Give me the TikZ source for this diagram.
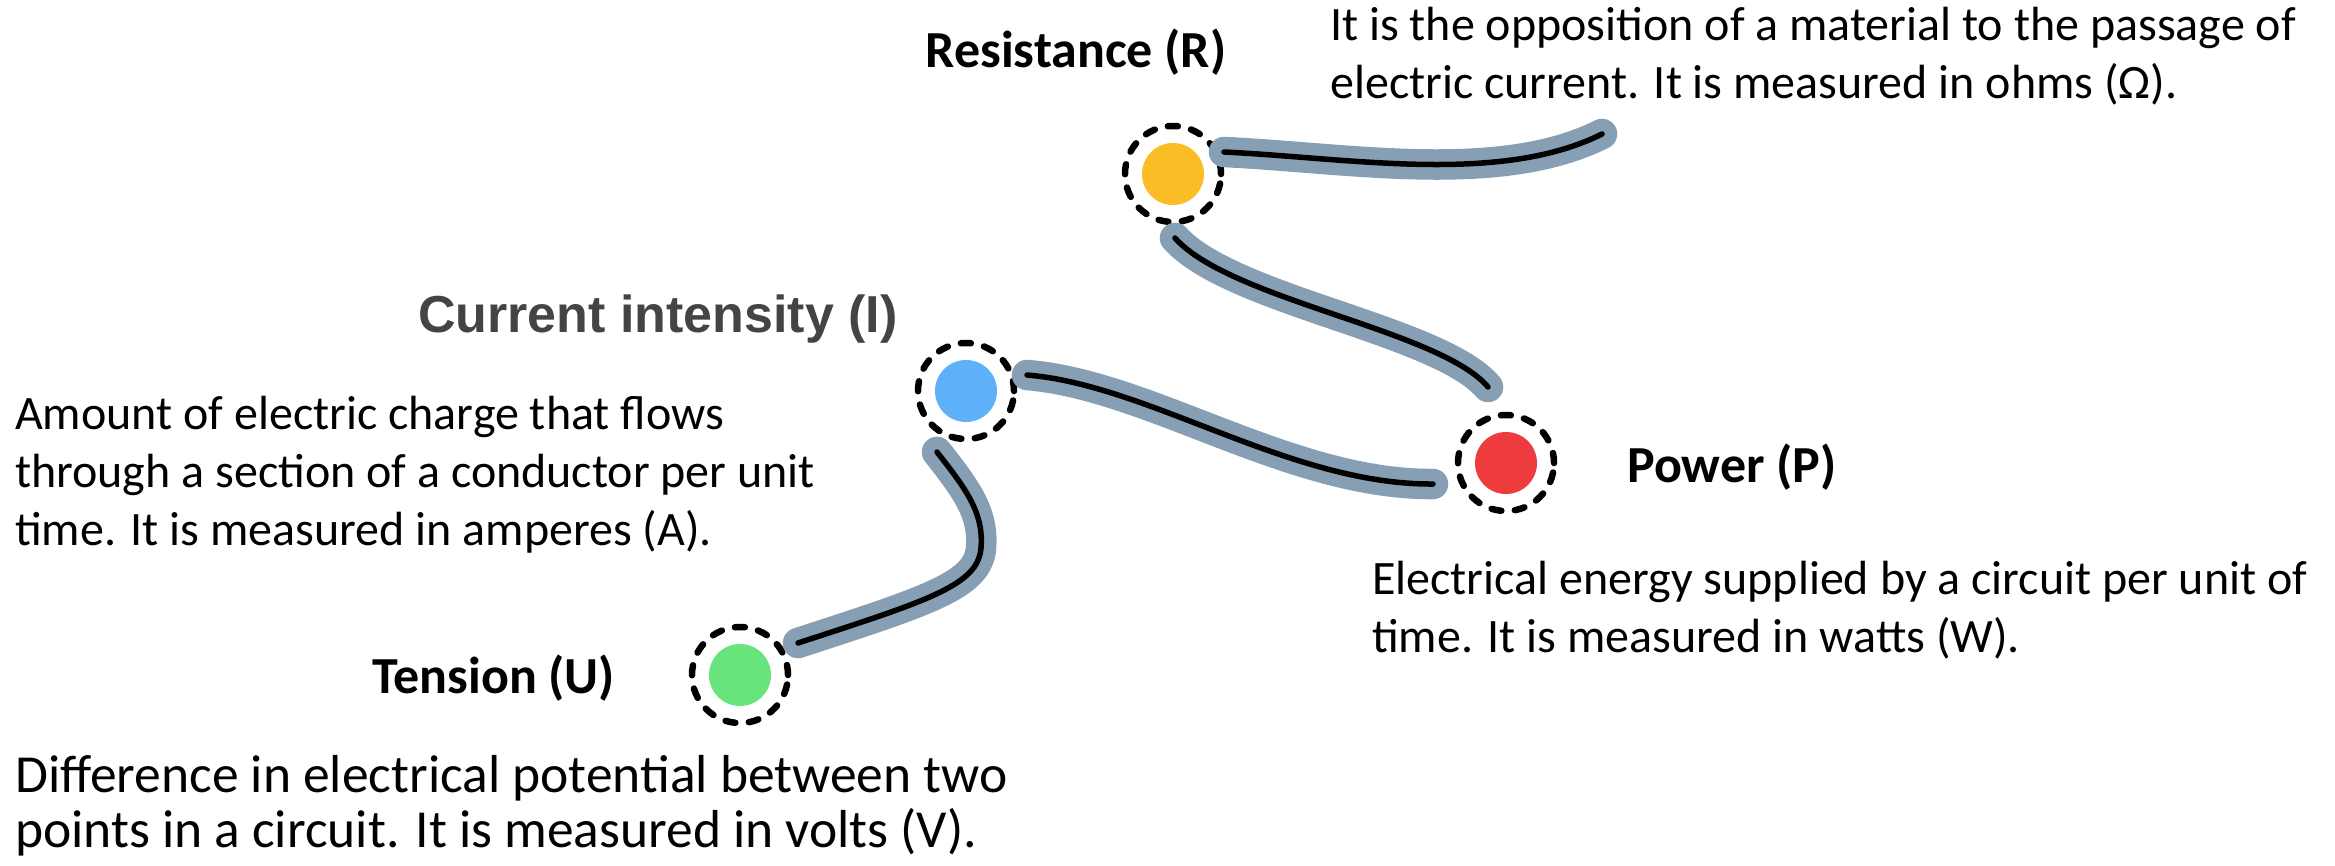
\documentclass[tikz,border=0pt]{standalone}
\usepackage{fontspec}
\setmainfont{Carlito}
\newfontfamily\arialfont{Liberation Sans}
\usetikzlibrary{calc}
\definecolor{wiregrey}{RGB}{134,159,180}
\definecolor{labelgrey}{RGB}{68,68,68}
\definecolor{cyellow}{RGB}{251,189,38}
\definecolor{cblue}{RGB}{94,176,248}
\definecolor{cred}{RGB}{238,59,61}
\definecolor{cgreen}{RGB}{105,228,125}
\tikzset{
  wire/.style={draw=wiregrey, double=black, double distance=5.5pt,
    line width=12.5pt, line cap=round},
  ring/.style={circle, draw=black, line width=6.5pt, line cap=round,
    dash pattern=on 10pt off 13.5pt, minimum size=96pt, inner sep=0pt},
  dot/.style={circle, fill=#1, minimum size=62pt, inner sep=0pt},
  lbl/.style={font=\fontsize{52}{62}\selectfont\bfseries, inner sep=0pt},
  desc/.style={font=\fontsize{48}{58}\selectfont, align=left, inner sep=0pt},
}
\begin{document}
\begin{tikzpicture}[x=1pt,y=-1pt]
\useasboundingbox (0,0) rectangle (2335,865);
\fill[white] (0,0) rectangle (2335,865);

% circles
\node[dot=cyellow] (dotR) at (1173,174) {};
\node[ring] (ringR) at (1173,174) {};
\node[dot=cblue] (dotI) at (966,391) {};
\node[ring] (ringI) at (966,391) {};
\node[dot=cred] (dotP) at (1506,463) {};
\node[ring] (ringP) at (1506,463) {};
\node[dot=cgreen] (dotU) at (740,675) {};
\node[ring] (ringU) at (740,675) {};

% wires
\coordinate (Rtail) at (1602,134);
\draw[wire] ($(ringR.center)+(51,-22)$) .. controls (1350,158) and (1500,185) .. (Rtail);
\draw[wire] ($(ringR.center)+(2,64)$) .. controls (1230,300) and (1440,330) .. ($(ringP.center)+(-18,-76)$);
\draw[wire] ($(ringI.center)+(61,-16)$) .. controls (1150,385) and (1290,485) .. ($(ringP.center)+(-73,21)$);
\draw[wire] ($(ringI.center)+(-29,61)$) .. controls (965,488) and (984,512) .. (981,548)
  .. controls (978,585) and (930,600) .. ($(ringU.center)+(58,-32)$);

% labels
\node[lbl, anchor=base] (labR) at (1076,67) {Resistance (R)};
\node[inner sep=0pt, anchor=base, text=labelgrey,
  font=\arialfont\fontsize{52}{62}\selectfont\bfseries] (labI) at (658,332) {Current intensity (I)};
\node[lbl, anchor=base west] (labP) at (1627,482) {Power (P)};
\node[lbl, anchor=base west] (labU) at (372,693) {Tension (U)};

% descriptions (base anchor = baseline of last line)
\node[desc, anchor=base west] (descR) at (1330,98)
  {It is the opposition of a material to the passage of\\electric current. It is measured in ohms (Ω).};
\node[desc, anchor=base west] (descI) at (15,545)
  {Amount of electric charge that flows\\through a section of a conductor per unit\\time. It is measured in amperes (A).};
\node[desc, anchor=base west] (descP) at (1372,652)
  {Electrical energy supplied by a circuit per unit of\\time. It is measured in watts (W).};
\node[desc, anchor=base west, font=\fontsize{53.5}{55}\selectfont] (descU) at (15,847)
  {Difference in electrical potential between two\\points in a circuit. It is measured in volts (V).};
\end{tikzpicture}
\end{document}
